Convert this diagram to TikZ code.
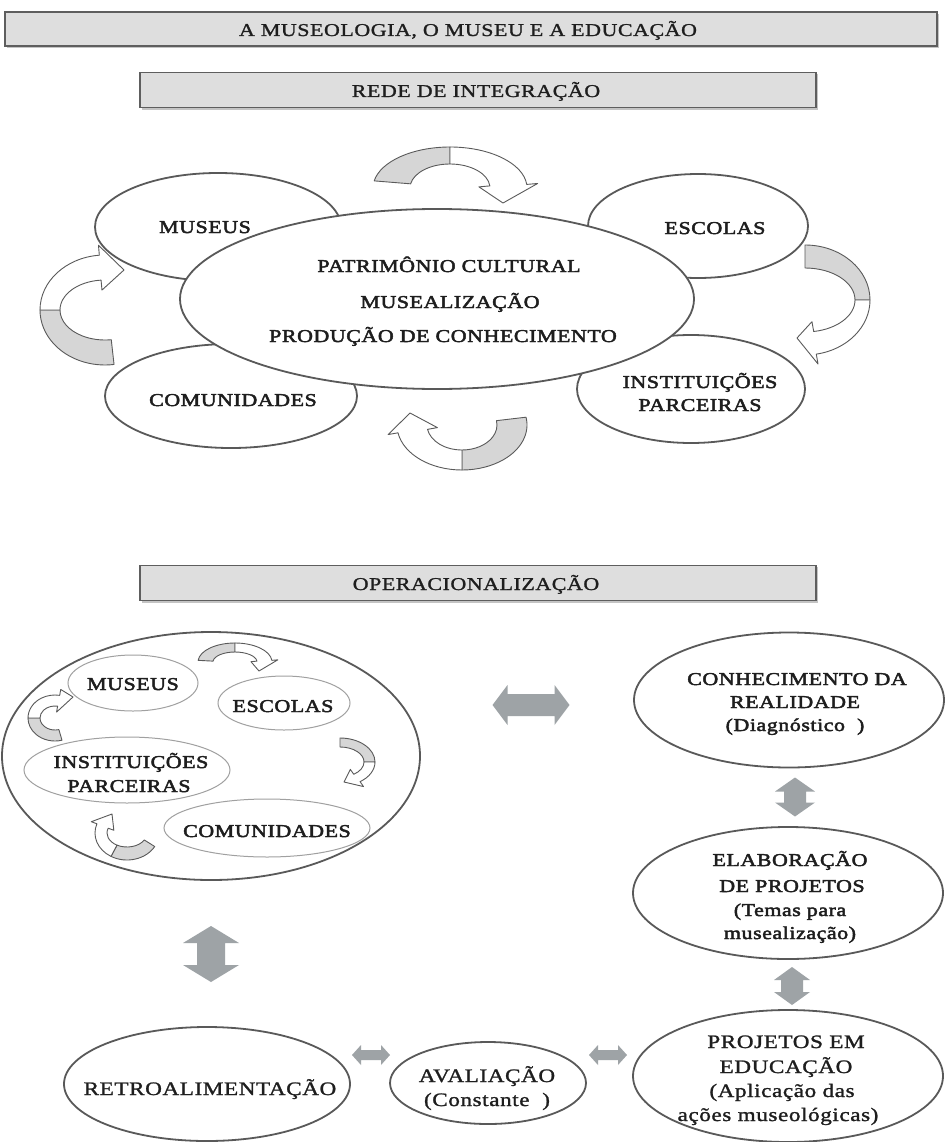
\documentclass[tikz,border=0pt]{standalone}
\usepackage{fontspec}
\setmainfont{Liberation Serif}
\newfontfamily\df[FakeStretch=1.22,LetterSpace=3,FakeBold=1.3]{Liberation Serif}
\newfontfamily\dfb[FakeStretch=1.22,LetterSpace=3,FakeBold=2.6]{Liberation Serif}
\usetikzlibrary{shapes.geometric,calc}
\definecolor{elcol}{HTML}{595959}
\definecolor{selcol}{HTML}{A0A0A0}
\definecolor{txtcol}{HTML}{1E1E1E}
\definecolor{bancol}{HTML}{5E5E5E}
\definecolor{banfill}{HTML}{DEDEDE}
\definecolor{shadowc}{HTML}{C4C4C4}
\definecolor{arrcol}{HTML}{9EA3A6}
\definecolor{cgray}{HTML}{D6D6D6}
\definecolor{cline}{HTML}{5A5A5A}
\tikzset{
  ell/.style={ellipse, draw=elcol, line width=1.8pt, fill=white, inner sep=0pt},
  sell/.style={ellipse, draw=selcol, line width=1pt, fill=white, inner sep=0pt},
  labw/.style={anchor=base, inner sep=0pt, text=txtcol, font=\dfb\fontsize{18}{22}\selectfont},
  labn/.style={anchor=base, inner sep=0pt, text=txtcol, font=\df\fontsize{19}{23}\selectfont},
  labban/.style={anchor=base, inner sep=0pt, text=txtcol, font=\df\fontsize{18}{22}\selectfont},
  banner/.style={draw=bancol, line width=1.5pt, fill=banfill, inner sep=0pt},
  blockarrow/.style={fill=arrcol},
  carrg/.style={fill=cgray, draw=cline, line width=0.9pt, line join=round},
  carrw/.style={fill=white, draw=cline, line width=0.9pt, line join=round}
}
% curved block arrow: #1 center x,y; #2 rxo; #3 ryo; #4 rxi; #5 ryi; #6 a1; #7 am; #8 a2; #9 tip x,y
\newcommand{\carrow}[9]{%
  \pgfmathsetmacro\rxoh{#2+\hx}\pgfmathsetmacro\ryoh{#3+\hx}%
  \pgfmathsetmacro\rxih{#4-\hx}\pgfmathsetmacro\ryih{#5-\hx}%
  \path[carrg] ($(#1)+(#6:#2 and #3)$) arc[start angle=#6, end angle=#7, x radius=#2, y radius=#3]
     -- ($(#1)+(#7:#4 and #5)$) arc[start angle=#7, end angle=#6, x radius=#4, y radius=#5] -- cycle;
  \path[carrw] ($(#1)+(#7:#2 and #3)$) arc[start angle=#7, end angle=#8, x radius=#2, y radius=#3]
     -- ($(#1)+(#8:\rxoh+0 and \ryoh+0)$) -- (#9) -- ($(#1)+(#8:\rxih+0 and \ryih+0)$)
     -- ($(#1)+(#8:#4 and #5)$) arc[start angle=#8, end angle=#7, x radius=#4, y radius=#5] -- cycle;
}
% horizontal double block arrow: #1 cx, #2 cy, #3 half length, #4 half head, #5 half shaft, #6 head length
\newcommand{\hdbl}[6]{%
  \path[blockarrow] (#1-#3,#2) -- (#1-#3+#6,#2-#4) -- (#1-#3+#6,#2-#5) -- (#1+#3-#6,#2-#5) -- (#1+#3-#6,#2-#4)
    -- (#1+#3,#2) -- (#1+#3-#6,#2+#4) -- (#1+#3-#6,#2+#5) -- (#1-#3+#6,#2+#5) -- (#1-#3+#6,#2+#4) -- cycle;}
\newcommand{\vdbl}[6]{%
  \path[blockarrow] (#1,#2-#3) -- (#1+#4,#2-#3+#6) -- (#1+#5,#2-#3+#6) -- (#1+#5,#2+#3-#6) -- (#1+#4,#2+#3-#6)
    -- (#1,#2+#3) -- (#1-#4,#2+#3-#6) -- (#1-#5,#2+#3-#6) -- (#1-#5,#2-#3+#6) -- (#1-#4,#2-#3+#6) -- cycle;}
\begin{document}
\begin{tikzpicture}[x=1pt,y=-1pt]
\useasboundingbox[fill=white] (0,0) rectangle (946,1142);

% ---------- banners ----------
\fill[shadowc] (7,14) rectangle (939,48);
\node[banner, minimum width=932pt, minimum height=34pt] (ban1) at (471,29) {};
\node[labban] (ban1t) at (468,36) {A MUSEOLOGIA, O MUSEU E A EDUCAÇÃO};
\fill[shadowc] (142,74) rectangle (818,110);
\node[banner, minimum width=676pt, minimum height=35pt] (ban2) at (478,90) {};
\node[labban] (ban2t) at (476,97) {REDE DE INTEGRAÇÃO};

% ---------- top cluster ----------
\node[ell, minimum width=246pt, minimum height=108pt] (mus) at (218,227) {};
\node[ell, minimum width=220pt, minimum height=104pt] (esc) at (698,226) {};
\node[ell, minimum width=252pt, minimum height=104pt] (com) at (231,396) {};
\node[ell, minimum width=228pt, minimum height=108pt] (ins) at (691,389) {};
\node[ell, minimum width=514pt, minimum height=180pt] (cen) at (437,299) {};

\node[labw] (musT) at (205,233) {MUSEUS};
\node[labw] (escT) at (715,234) {ESCOLAS};
\node[labw] (comT) at (233,406) {COMUNIDADES};
\node[labw] (insT1) at (700,388) {INSTITUIÇÕES};
\node[labw] (insT2) at (700,411) {PARCEIRAS};
\node[labw] (cenT1) at (449,272) {PATRIMÔNIO CULTURAL};
\node[labw] (cenT2) at (450,308) {MUSEALIZAÇÃO};
\node[labw] (cenT3) at (443,342) {PRODUÇÃO DE CONHECIMENTO};

\def\hx{11}
\carrow{450,188}{77}{41}{40}{24}{190}{270}{355}{503,203}
\def\hx{10}
\carrow{805,300}{65}{55}{50}{32}{-90}{0}{80}{797,338}
\carrow{462,425}{65}{45}{35}{25}{-10}{90}{170}{410,413}
\carrow{105,310}{65}{55}{45}{30}{82}{180}{265}{124,270}

% ---------- operacionalização ----------
\fill[shadowc] (142,567) rectangle (818,603);
\node[banner, minimum width=676pt, minimum height=35pt] (ban3) at (478,583) {};
\node[labban] (ban3t) at (476,590) {OPERACIONALIZAÇÃO};

\node[ell, minimum width=418pt, minimum height=248pt] (big) at (211,756) {};
\node[sell, minimum width=130pt, minimum height=56pt] (smus) at (133,683) {};
\node[sell, minimum width=132pt, minimum height=54pt] (sesc) at (284,703) {};
\node[sell, minimum width=206pt, minimum height=66pt] (sins) at (127,770) {};
\node[sell, minimum width=206pt, minimum height=58pt] (scom) at (267,828) {};
\node[labw] (smusT) at (133,690) {MUSEUS};
\node[labw] (sescT) at (283,712) {ESCOLAS};
\node[labw] (sinsT1) at (131,768) {INSTITUIÇÕES};
\node[labw] (sinsT2) at (129,792) {PARCEIRAS};
\node[labw] (scomT) at (267,837) {COMUNIDADES};

\def\hx{6}
\carrow{235,662}{37}{19}{22}{10}{185}{270}{355}{259,671}
\carrow{340,762}{35}{24}{24}{15}{-90}{0}{55}{344,782}
\carrow{127,833}{32}{27}{20}{14}{30}{120}{200}{112,814}
\carrow{55,718}{27}{23}{15}{12}{75}{180}{280}{73,697}

% right column
\node[ell, minimum width=310pt, minimum height=135pt] (con) at (789,700) {};
\node[labw] (conT1) at (797,685) {CONHECIMENTO DA};
\node[labw] (conT2) at (795,708) {REALIDADE};
\node[labw] (conT3) at (795,731) {(Diagnóstico \ )};

\node[ell, minimum width=310pt, minimum height=132pt] (ela) at (788,893) {};
\node[labw] (elaT1) at (790,866) {ELABORAÇÃO};
\node[labw] (elaT2) at (792,892) {DE PROJETOS};
\node[labw] (elaT3) at (790,916) {(Temas para};
\node[labw] (elaT4) at (790,939) {musealização)};

\node[ell, minimum width=310pt, minimum height=132pt] (pro) at (788,1076) {};
\node[labn] (proT1) at (786,1048) {PROJETOS EM};
\node[labn] (proT2) at (786,1073) {EDUCAÇÃO};
\node[labn] (proT3) at (782,1097) {(Aplicação das};
\node[labn] (proT4) at (778,1121) {ações museológicas)};

\node[ell, minimum width=196pt, minimum height=82pt] (ava) at (488,1083) {};
\node[labn] (avaT1) at (487,1082) {AVALIAÇÃO};
\node[labn] (avaT2) at (487,1106) {(Constante \ )};

\node[ell, minimum width=286pt, minimum height=114pt] (ret) at (207,1084) {};
\node[labn] (retT) at (210,1095) {RETROALIMENTAÇÃO};

% block double arrows
\hdbl{531}{705}{38.5}{20}{11}{15}
\vdbl{795}{797}{19.5}{20}{11}{14}
\vdbl{792}{986}{19}{18}{11}{13}
\vdbl{211}{954}{28}{28}{14}{17}
\hdbl{371}{1055}{19}{10}{5}{9}
\hdbl{608}{1055}{19}{10}{5}{9}
\end{tikzpicture}
\end{document}
